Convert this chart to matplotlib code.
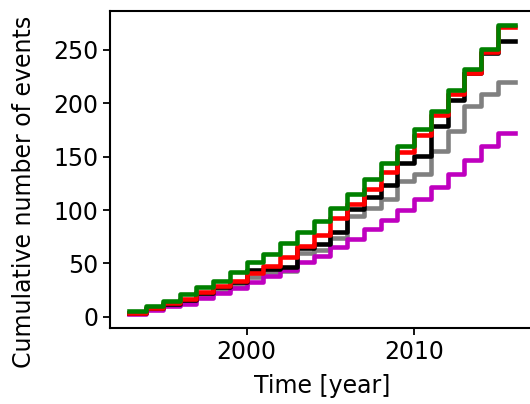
import matplotlib
matplotlib.use("Agg")
import matplotlib.pyplot as plt
import numpy as np

years = list(range(1993, 2017))

green = [5, 10, 15, 21, 28, 34, 42, 51, 59, 69, 79, 90, 102, 115, 129, 144, 160, 176, 193, 212, 232, 251, 273]
red = [4, 8, 13, 17, 23, 29, 34, 41, 48, 56, 66, 77, 93, 106, 120, 136, 154, 170, 189, 209, 228, 248, 271]
black = [4, 8, 12, 16, 22, 28, 33, 44, 45, 47, 64, 68, 79, 101, 112, 123, 144, 151, 179, 203, 228, 247, 258]
gray = [4, 7, 11, 15, 20, 25, 30, 37, 42, 43, 60, 63, 74, 94, 102, 110, 127, 134, 155, 174, 197, 209, 220]
magenta = [3, 6, 10, 12, 18, 22, 27, 33, 38, 44, 51, 57, 65, 73, 82, 91, 100, 110, 122, 134, 147, 160, 172]

series = [(gray, "gray"), (magenta, "m"), (black, "k"), (red, "r"), (green, "g")]

fig = plt.figure(figsize=(5.3, 4.04), dpi=100)
ax = fig.add_axes([0.2075, 0.188, 0.80, 0.785])

for vals, col in series:
    ax.step(years, vals + [vals[-1]], where="post", color=col, lw=3.3)

ax.set_xticks([2000, 2010])
ax.set_yticks([0, 50, 100, 150, 200, 250])
ax.tick_params(labelsize=17, length=5, width=1.3)
for s in ax.spines.values():
    s.set_linewidth(1.5)
ax.set_xlabel("Time [year]", fontsize=17)
ax.set_ylabel("Cumulative number of events", fontsize=17)
ax.xaxis.set_label_coords(0.5, -0.145)
ax.yaxis.set_label_coords(-0.175, 0.43)

fig.savefig("out.png", dpi=100)
